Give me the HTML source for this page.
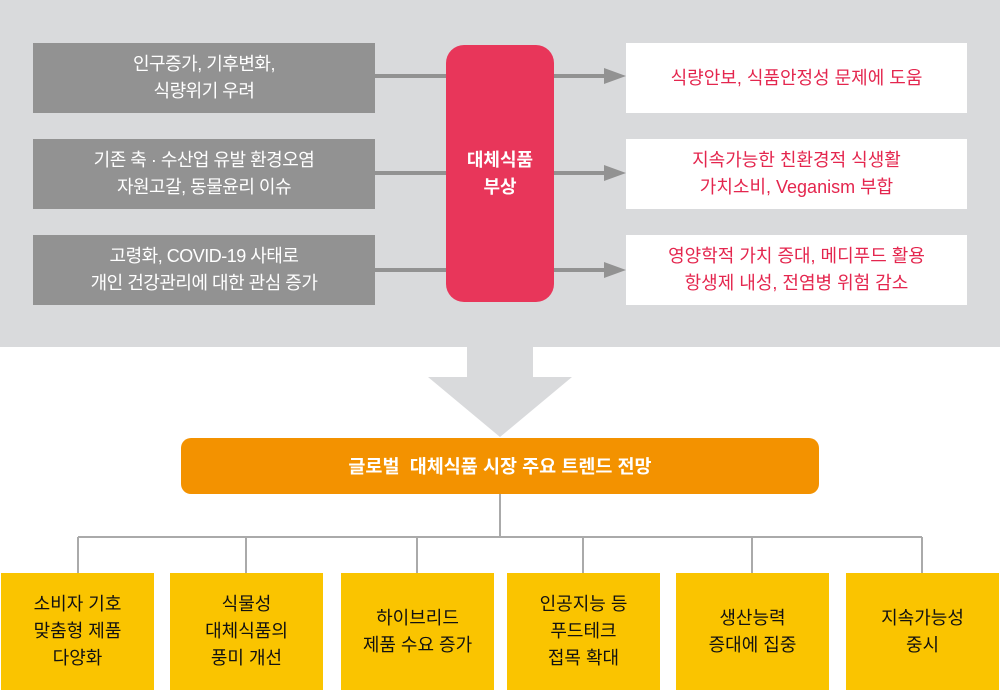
<!DOCTYPE html>
<html><head><meta charset="utf-8"><style>
*{margin:0;padding:0;box-sizing:border-box}
body{width:1000px;height:690px;position:relative;background:#fff;overflow:hidden;font-family:"Liberation Sans","Noto Sans CJK KR",sans-serif}
.a{position:absolute;display:flex;align-items:center;justify-content:center;text-align:center}
.g{background:#929292;color:#fff;font-size:18px;line-height:27px;left:33px;width:342px;height:70px;letter-spacing:-0.5px}
.w{background:#fff;color:#e4264e;font-size:18px;line-height:27px;left:626px;width:341px;height:70px}
.y{background:#fac400;color:#111;font-size:18px;line-height:27px;top:573px;width:153px;height:117px}
</style></head><body>
<div style="position:absolute;left:0;top:0;width:1000px;height:347px;background:#d9dadc"></div>
<svg style="position:absolute;left:0;top:0" width="1000" height="690">
<g stroke="#929292" stroke-width="4" fill="#929292">
<line x1="375" y1="76" x2="610" y2="76"/><polygon points="604,68 626,76 604,84" stroke="none"/>
<line x1="375" y1="173" x2="610" y2="173"/><polygon points="604,165 626,173 604,181" stroke="none"/>
<line x1="375" y1="270" x2="610" y2="270"/><polygon points="604,262 626,270 604,278" stroke="none"/>
</g>
<polygon points="467,347 533,347 533,377 572,377 500,437 428,377 467,377" fill="#d9dadc"/>
<g stroke="#aaa" stroke-width="2" fill="none">
<line x1="500" y1="494" x2="500" y2="537"/>
<line x1="78" y1="537" x2="922" y2="537"/>
<line x1="78" y1="537" x2="78" y2="573"/><line x1="246" y1="537" x2="246" y2="573"/>
<line x1="417" y1="537" x2="417" y2="573"/><line x1="583" y1="537" x2="583" y2="573"/>
<line x1="752" y1="537" x2="752" y2="573"/><line x1="922" y1="537" x2="922" y2="573"/>
</g>
</svg>
<div class="a g" style="top:43px">인구증가, 기후변화,<br>식량위기 우려</div>
<div class="a g" style="top:139px">기존 축 · 수산업 유발 환경오염<br>자원고갈, 동물윤리 이슈</div>
<div class="a g" style="top:235px">고령화, COVID-19 사태로<br>개인 건강관리에 대한 관심 증가</div>
<div class="a" style="left:446px;top:45px;width:108px;height:257px;background:#e8365a;border-radius:18px;color:#fff;font-weight:bold;font-size:18px;line-height:27px">대체식품<br>부상</div>
<div class="a w" style="top:43px">식량안보, 식품안정성 문제에 도움</div>
<div class="a w" style="top:139px">지속가능한 친환경적 식생활<br>가치소비, Veganism 부합</div>
<div class="a w" style="top:235px">영양학적 가치 증대, 메디푸드 활용<br>항생제 내성, 전염병 위험 감소</div>
<div class="a" style="left:181px;top:438px;width:638px;height:56px;background:#f39200;border-radius:10px;color:#fff;font-weight:bold;font-size:18.5px">글로벌&nbsp; 대체식품 시장 주요 트렌드 전망</div>
<div class="a y" style="left:1px">소비자 기호<br>맞춤형 제품<br>다양화</div>
<div class="a y" style="left:170px">식물성<br>대체식품의<br>풍미 개선</div>
<div class="a y" style="left:341px">하이브리드<br>제품 수요 증가</div>
<div class="a y" style="left:507px">인공지능 등<br>푸드테크<br>접목 확대</div>
<div class="a y" style="left:676px">생산능력<br>증대에 집중</div>
<div class="a y" style="left:846px">지속가능성<br>중시</div>
</body></html>
